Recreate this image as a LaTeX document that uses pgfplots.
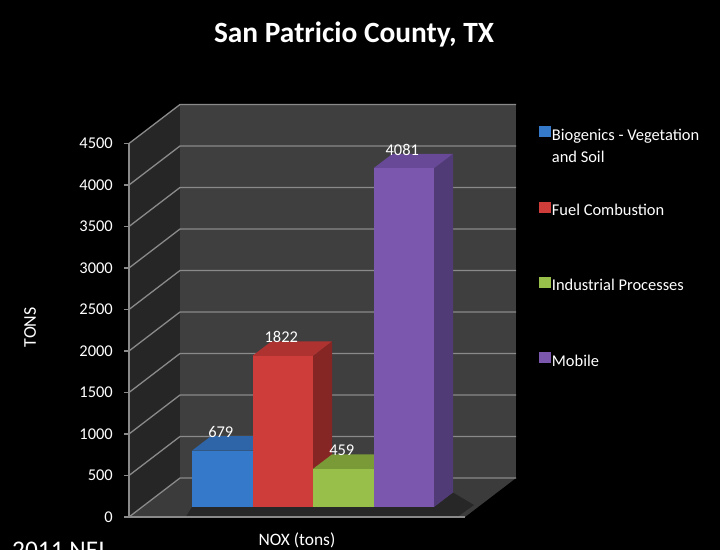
\documentclass[border=0pt]{standalone}
\usepackage{pgfplots}
\pgfplotsset{compat=1.18}
\usepackage{fontspec}
\setmainfont{Carlito}
\definecolor{bgwall}{HTML}{3F3F3F}
\definecolor{sidewall}{HTML}{262626}
\definecolor{floorc}{HTML}{3B3B3B}
\definecolor{shadowc}{HTML}{272727}
\definecolor{gridc}{HTML}{8A8A8A}
\definecolor{bluef}{HTML}{3579CB}
\definecolor{bluet}{HTML}{2E64A8}
\definecolor{blues}{HTML}{24508A}
\definecolor{redf}{HTML}{CF3D3A}
\definecolor{redt}{HTML}{AE3230}
\definecolor{reds}{HTML}{862624}
\definecolor{greenf}{HTML}{97BF49}
\definecolor{greent}{HTML}{7A9A38}
\definecolor{greens}{HTML}{62802C}
\definecolor{purpf}{HTML}{7B58AE}
\definecolor{purpt}{HTML}{684998}
\definecolor{purps}{HTML}{503B77}
\pgfplotsset{/pgf/number format/assume math mode=true, /pgf/number format/1000 sep={}}
\newcommand{\lblfont}{\fontsize{16.5}{21.5}\selectfont}
\begin{document}
\begin{tikzpicture}[x=1bp,y=1bp]
\useasboundingbox (0,0) rectangle (720,550);
\fill[black] (0,0) rectangle (720,550);
\clip (0,0) rectangle (720,550);
% walls and floor
\fill[sidewall] (129,33) -- (180,72) -- (180,445.5) -- (129,406.5) -- cycle;
\fill[bgwall] (180,72) rectangle (516,445.5);
\fill[floorc] (129,33) -- (465,33) -- (516,72) -- (180,72) -- cycle;
\fill[shadowc] (186,33.5) -- (458,33.5) -- (474,45) -- (453,57.5) -- (434,43) -- (192,43) -- cycle;
\foreach \k in {0,...,9} {
  \pgfmathsetmacro\yf{33+\k*41.5}
  \pgfmathsetmacro\yb{72+\k*41.5}
  \draw[gridc, line width=1.3bp] (129,\yf) -- (180,\yb) -- (516,\yb);
}
% title
\node[anchor=base, text=white, font=\fontsize{29.5}{33}\selectfont\bfseries] at (354,507.5) {San Patricio County, TX};
% footer
\node[anchor=base west, text=white, font=\fontsize{25.5}{30}\selectfont, inner sep=0pt] at (12,-9) {2011 NEI};
% front frame axis with ticks
\begin{axis}[
  at={(129bp,33bp)}, anchor=south west, scale only axis,
  width=336bp, height=373.5bp,
  xmin=0, xmax=1, ymin=0, ymax=4500,
  axis x line*=bottom, axis y line*=left,
  axis line style={gridc, line width=1.3bp, -},
  xtick=\empty, ytick={0,500,...,4500},
  tick align=outside, major tick length=5bp,
  tick style={gridc, line width=1.2bp},
  yticklabel style={font=\lblfont, text=white, inner sep=0pt, anchor=east, xshift=-11bp},
  xlabel={NOX (tons)}, ylabel={TONS},
  every axis x label/.style={at={(axis description cs:0.5,-0.0616)}, anchor=center, font=\fontsize{17.5}{21}\selectfont, text=white},
  every axis y label/.style={at={(axis description cs:-0.2946,0.508)}, anchor=center, rotate=90, font=\fontsize{18}{21}\selectfont, text=white},
]
\end{axis}
% bars axis
\begin{axis}[
  at={(192bp,43bp)}, anchor=south west, scale only axis,
  width=242bp, height=373.5bp,
  xmin=0, xmax=4, ymin=0, ymax=4500,
  axis lines=none, clip=false,
  legend style={at={(axis description cs:1.434,1.019)}, anchor=north west,
    draw=none, fill=none, text=white, font=\lblfont, inner sep=0pt, outer sep=0pt,
    row sep=55.5bp, column sep=0bp,
    nodes={inner sep=1.5bp, text height=12bp, text depth=4bp}},
  legend cell align=left,
  every node near coord/.append style={font=\lblfont, text=white},
]
% Biogenics
\addplot[fill=blues, draw=none, forget plot] coordinates {(1,0) (1.314,174.7) (1.314,853.7) (1,679)} --cycle;
\addplot[fill=bluet, draw=none, forget plot] coordinates {(0,679) (0.314,853.7) (1.314,853.7) (1,679)} --cycle;
\addplot[ybar, bar width=1, bar shift=0pt, fill=bluef, draw=none, forget plot,
  nodes near coords, nodes near coords style={anchor=base, yshift=13bp, xshift=-1.5bp}] coordinates {(0.5,679)};
% Fuel Combustion
\addplot[fill=reds, draw=none, forget plot] coordinates {(2,0) (2.314,174.7) (2.314,1996.7) (2,1822)} --cycle;
\addplot[fill=redt, draw=none, forget plot] coordinates {(1,1822) (1.314,1996.7) (2.314,1996.7) (2,1822)} --cycle;
\addplot[ybar, bar width=1, bar shift=0pt, fill=redf, draw=none, forget plot,
  nodes near coords, nodes near coords style={anchor=base, yshift=13bp, xshift=-1.5bp}] coordinates {(1.5,1822)};
% Industrial Processes
\addplot[fill=greens, draw=none, forget plot] coordinates {(3,0) (3.314,174.7) (3.314,633.7) (3,459)} --cycle;
\addplot[fill=greent, draw=none, forget plot] coordinates {(2,459) (2.314,633.7) (3.314,633.7) (3,459)} --cycle;
\addplot[ybar, bar width=1, bar shift=0pt, fill=greenf, draw=none, forget plot,
  nodes near coords, nodes near coords style={anchor=base, yshift=13bp, xshift=-1.5bp}] coordinates {(2.5,459)};
% Mobile
\addplot[fill=purps, draw=none, forget plot] coordinates {(4,0) (4.314,174.7) (4.314,4255.7) (4,4081)} --cycle;
\addplot[fill=purpt, draw=none, forget plot] coordinates {(3,4081) (3.314,4255.7) (4.314,4255.7) (4,4081)} --cycle;
\addplot[ybar, bar width=1, bar shift=0pt, fill=purpf, draw=none, forget plot,
  nodes near coords, nodes near coords style={anchor=base, yshift=13bp, xshift=-1.5bp}] coordinates {(3.5,4081)};
% legend
\addlegendimage{legend image code/.code={\fill[bluef] (0bp,0bp) rectangle (11bp,10bp);}}
\addlegendentry{\begin{tabular}[t]{@{}l@{}}Biogenics - Vegetation\\and Soil\end{tabular}}
\addlegendimage{legend image code/.code={\fill[redf] (0bp,0bp) rectangle (11bp,10bp);}}
\addlegendentry{Fuel Combustion}
\addlegendimage{legend image code/.code={\fill[greenf] (0bp,0bp) rectangle (11bp,10bp);}}
\addlegendentry{Industrial Processes}
\addlegendimage{legend image code/.code={\fill[purpf] (0bp,0bp) rectangle (11bp,10bp);}}
\addlegendentry{Mobile}
\end{axis}
\end{tikzpicture}
\end{document}
